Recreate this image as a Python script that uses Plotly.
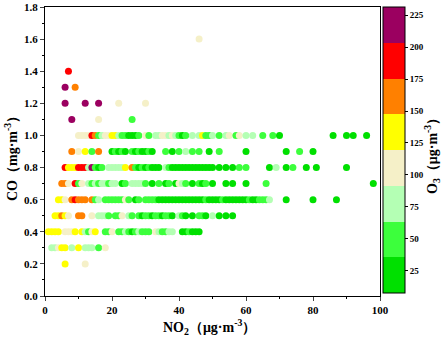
import plotly.graph_objects as go

# ---- data: per CO level (mg/m3) -> NO2 (ug/m3) and O3 (ug/m3) ----
co_levels = [1.6, 1.4, 1.3, 1.2, 1.1, 1.0, 0.9, 0.8, 0.7, 0.6, 0.5, 0.4, 0.3, 0.2]

no2_16 = [46]
o3_16 = [105]
no2_14 = [7]
o3_14 = [190]
no2_13 = [6, 9]
o3_13 = [215, 160]
no2_12 = [6, 12, 16, 22, 30]
o3_12 = [215, 215, 215, 105, 105]
no2_11 = [8, 16, 26]
o3_11 = [215, 105, 50]
no2_10 = [10, 11, 12, 13, 14, 15, 16, 17, 18, 19, 20, 21, 22, 23, 24, 25, 26, 27, 28,
          30, 31, 33, 34, 35, 36, 37, 38, 39, 40, 41, 42, 44,
          46, 47, 48, 49, 50, 52, 54, 55, 57, 58, 60, 62, 65, 68, 70,
          86, 90, 92, 96]
o3_10 = [105, 100, 108, 104, 190, 160, 50, 78, 105, 110, 133, 138, 80, 48, 52, 25, 20, 28, 50,
         102, 45, 75, 80, 100, 106, 82, 98, 76, 50, 30, 55, 70,
         78, 128, 50, 45, 80, 52, 74, 100, 48, 104, 80, 84, 55, 45, 25,
         22, 26, 24, 20]
no2_09 = [8, 10, 12, 14, 16, 20, 21, 22, 23, 24, 26, 27, 28, 29, 30, 31, 32, 36, 38, 40,
          42, 44, 46, 49, 52, 60, 72, 76, 80]
o3_09 = [160, 104, 132, 50, 158, 25, 48, 22, 52, 28, 50, 20, 45, 26, 30, 50, 24, 50, 25, 48,
         78, 45, 50, 22, 48, 25, 28, 55, 20]
no2_08 = [6, 7, 8, 9, 10, 11, 12, 13, 14, 15, 16, 17,
          19, 20, 21, 22, 23, 24,
          26, 27, 28, 29, 30, 31, 32, 33, 34,
          36, 37, 38, 39, 40, 41, 42, 43, 44, 45, 46, 47, 48, 49, 50,
          52, 54, 56, 58, 60,
          67, 69, 72, 74, 78, 81, 90]
o3_08 = [190, 135, 130, 140, 185, 195, 188, 78, 210, 50, 25, 48,
         80, 76, 82, 78, 80, 130,
         160, 50, 25, 45, 22, 52, 28, 20, 25,
         80, 50, 25, 22, 20, 28, 25, 22, 26, 20, 24, 28, 22, 25, 20,
         25, 22, 28, 45, 50,
         25, 78, 22, 50, 25, 20, 24]
no2_07 = [5, 6, 7, 9, 10, 11,
          13, 14, 15, 16, 17, 18, 19, 20, 21,
          23, 24,
          26, 27, 28, 29, 30,
          32, 34, 36, 37, 39, 40, 41, 42, 44, 46, 47, 48, 50,
          54, 56, 60, 66, 98]
o3_07 = [160, 158, 105, 190, 50, 104,
         78, 50, 80, 48, 76, 82, 50, 78, 80,
         22, 50,
         80, 76, 82, 78, 50,
         25, 50, 22, 48, 25, 105, 78, 50, 22, 48, 25, 50, 20,
         25, 22, 28, 50, 20]
no2_06 = [4, 5, 6, 8, 9, 10, 11, 12, 14, 15, 16,
          18, 19, 20, 21, 22, 23, 24, 25, 27, 28,
          30, 31, 32, 33, 34, 35, 36, 37, 38, 39, 40, 41, 42, 43, 44, 45, 46, 47, 48,
          49, 50, 51, 52, 53, 54, 55, 56, 57, 58, 59, 60, 61, 62, 63, 64, 65, 66, 67,
          72, 80, 87]
o3_06 = [132, 138, 105, 160, 190, 158, 162, 165, 160, 50, 80,
         50, 48, 52, 50, 45, 50, 105, 50, 22, 50,
         50, 48, 52, 50, 25, 22, 20, 28, 25, 22, 20, 26, 24, 20, 28, 22, 25, 20, 50,
         22, 25, 28, 20, 48, 25, 22, 20, 28, 25, 22, 20, 50, 25, 22, 45, 50, 52, 78,
         25, 22, 20]
no2_05 = [3, 4, 5, 6, 7, 10, 11, 14, 16, 17, 18, 19, 21, 22, 23, 25, 26,
          28, 29, 30, 31, 32, 33, 34, 35, 36, 37, 38, 40, 41, 42, 44, 46, 47, 48,
          50, 52, 54, 56]
o3_05 = [135, 130, 160, 138, 105, 162, 158, 105, 78, 80, 76, 50, 48, 52, 105, 80, 50,
         50, 22, 48, 52, 25, 50, 48, 22, 50, 45, 25, 78, 50, 22, 25, 50, 48, 22,
         80, 25, 22, 28]
no2_04 = [1, 2, 3, 4, 6, 7, 8, 9, 11, 12, 13, 14, 15, 18, 19, 20,
          22, 23, 24, 25, 26, 27, 28, 29, 30, 31, 33, 34, 35, 36, 37, 38,
          41, 42, 43, 44, 45, 46]
o3_04 = [135, 132, 138, 130, 105, 100, 108, 134, 136, 78, 50, 104, 135, 50, 48, 105,
         50, 52, 80, 48, 22, 50, 78, 48, 50, 45, 105, 78, 50, 48, 80, 76,
         25, 22, 50, 25, 22, 25]
no2_03 = [2, 3, 4, 5, 6, 8, 10, 12, 13, 14, 16, 18]
o3_03 = [80, 78, 105, 135, 132, 80, 135, 78, 80, 76, 50, 105]
no2_02 = [6, 12]
o3_02 = [135, 105]

rows_no2 = [no2_16, no2_14, no2_13, no2_12, no2_11, no2_10, no2_09, no2_08,
            no2_07, no2_06, no2_05, no2_04, no2_03, no2_02]
rows_o3 = [o3_16, o3_14, o3_13, o3_12, o3_11, o3_10, o3_09, o3_08,
           o3_07, o3_06, o3_05, o3_04, o3_03, o3_02]

x_ticks = [0, 20, 40, 60, 80, 100]
y_ticks = [0.0, 0.2, 0.4, 0.6, 0.8, 1.0, 1.2, 1.4, 1.6, 1.8]
y_labels = ["0.0", "0.2", "0.4", "0.6", "0.8", "1.0", "1.2", "1.4", "1.6", "1.8"]
cb_ticks = [25, 50, 75, 100, 125, 150, 175, 200, 225]

bin_colors = ["#00E000", "#3CFF3C", "#B4FFB4", "#F5F0C8",
              "#FFFF00", "#FF8000", "#FF0000", "#9B0060"]
o3_min, o3_max = 7.5, 231.5

# ---- build flat arrays ----
xs, ys, cs = [], [], []
for co, nx, oz in zip(co_levels, rows_no2, rows_o3):
    xs += nx
    ys += [co] * len(nx)
    cs += oz

n = len(bin_colors)
colorscale = []
for i, c in enumerate(bin_colors):
    colorscale.append([i / n, c])
    colorscale.append([(i + 1) / n, c])

FONT = "Liberation Serif, Times New Roman, serif"

fig = go.Figure(go.Scatter(
    x=xs, y=ys, mode="markers",
    marker=dict(size=7, color=cs, colorscale=colorscale, cmin=o3_min, cmax=o3_max,
                line=dict(width=0),
                colorbar=dict(
                    x=(383 - 45) / 335, xanchor="left", xpad=0,
                    y=1, yanchor="top", ypad=0,
                    lenmode="pixels", len=286, thickness=22,
                    outlinewidth=1, outlinecolor="black",
                    tickvals=cb_ticks, ticks="outside", ticklen=3,
                    tickcolor="black",
                    tickfont=dict(family=FONT, size=9, color="black", weight="bold"),
                )),
    showlegend=False,
))

fig.update_layout(
    width=448, height=342,
    margin=dict(l=45, r=68, t=7, b=46, autoexpand=False),
    paper_bgcolor="white", plot_bgcolor="white",
    xaxis=dict(range=[0, 100], tickvals=x_ticks, ticks="outside", ticklen=4,
               automargin=False,
               showline=True, mirror=True, linecolor="black", linewidth=1,
               showgrid=False, zeroline=False,
               minor=dict(ticks="outside", ticklen=2, dtick=10, tickcolor="black"),
               tickfont=dict(family=FONT, size=11, color="black", weight="bold")),
    yaxis=dict(range=[0, 1.8], tickvals=y_ticks, ticktext=y_labels, ticks="outside",
               automargin=False,
               ticklen=4, showline=True, mirror=True, linecolor="black", linewidth=1,
               showgrid=False, zeroline=False,
               minor=dict(ticks="outside", ticklen=2, dtick=0.1, tickcolor="black"),
               tickfont=dict(family=FONT, size=11, color="black", weight="bold")),
    annotations=[
        dict(text="NO<sub>2</sub>（μg·m<sup>-3</sup>）", xref="paper", yref="paper",
             x=0.49, y=(296 - 327) / 289, xanchor="center", yanchor="middle",
             showarrow=False, font=dict(family=FONT, size=14, color="black", weight="bold")),
        dict(text="CO（mg·m<sup>-3</sup>）", xref="paper", yref="paper",
             x=(11 - 45) / 335, y=(296 - 155) / 289, xanchor="center", yanchor="middle",
             textangle=-90, showarrow=False,
             font=dict(family=FONT, size=14, color="black", weight="bold")),
        dict(text="O<sub>3</sub>（μg·m<sup>-3</sup>）", xref="paper", yref="paper",
             x=(432 - 45) / 335, y=(296 - 153) / 289, xanchor="center", yanchor="middle",
             textangle=-90, showarrow=False,
             font=dict(family=FONT, size=14, color="black", weight="bold")),
    ],
)

fig.write_html("out.html", config={"displayModeBar": False},
               post_script="document.body.style.margin='0';")
